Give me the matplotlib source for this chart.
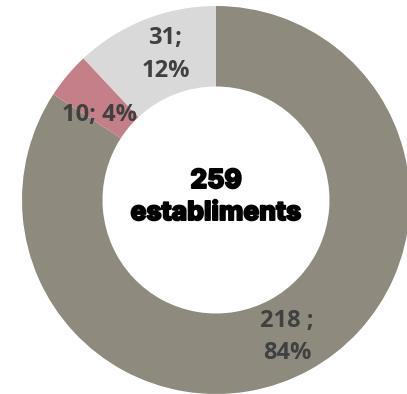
import matplotlib
matplotlib.use("Agg")
import matplotlib.pyplot as plt
import matplotlib.patheffects as pe

# ── Data ──────────────────────────────────────────────────────────────────────
counts = [218, 10, 31]
shares = ["84%", "4%", "12%"]
label_text = ["218 ;\n84%", "10; 4%", "31;\n12%"]
colors = ["#8F8A7E", "#C47F88", "#D9D9D9"]
total_label = "259\nestabliments"

# label anchor positions (in pie radius units)
label_pos = [(0.366, -0.706), (-0.60, 0.44), (-0.26, 0.75)]

# ── Figure ────────────────────────────────────────────────────────────────────
W, H = 407, 394
fig = plt.figure(figsize=(W / 100, H / 100), dpi=100)
cx, cy, r = 216, 200, 194
ax = fig.add_axes([(cx - r) / W, (H - cy - r) / H, 2 * r / W, 2 * r / H])

ax.pie(counts, colors=colors, startangle=90, counterclock=False,
       radius=1.0, wedgeprops=dict(width=0.415, linewidth=0))

for txt, (x, y) in zip(label_text, label_pos):
    ax.text(x, y, txt, ha="center", va="center", fontsize=17,
            fontweight="bold", color="#404040", family="Open Sans",
            linespacing=1.45)

# centre total, thickened a little to mimic a black-weight face
ax.text(0.0, 0.015, total_label, ha="center", va="center", fontsize=19,
        fontweight="heavy", color="black", family="Inter", linespacing=1.3,
        path_effects=[pe.withStroke(linewidth=1.3, foreground="black")])

ax.set_xlim(-1, 1)
ax.set_ylim(-1, 1)
ax.set_aspect("auto")
ax.axis("off")

fig.savefig("out.png", dpi=100, facecolor="white")
